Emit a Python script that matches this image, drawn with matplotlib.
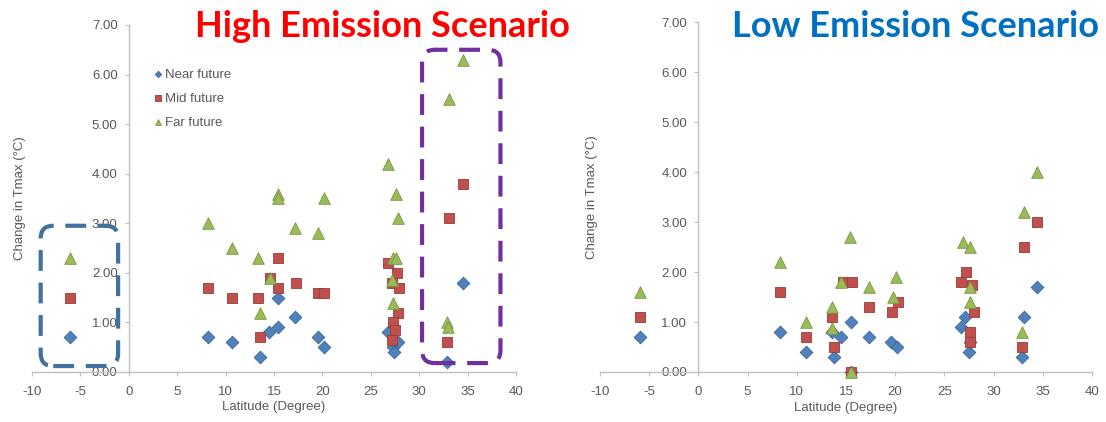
import matplotlib
matplotlib.use("Agg")
import matplotlib.pyplot as plt
from matplotlib.patches import FancyBboxPatch

# High emission scenario (left panel)
high_near_lat = [-6.1, 8.2, 10.7, 13.6, 14.5, 15.4, 15.4, 17.2, 19.6, 20.2, 26.8, 27.3, 27.4, 27.8, 32.9, 34.5]
high_near_val = [0.7, 0.7, 0.6, 0.3, 0.8, 0.9, 1.5, 1.1, 0.7, 0.5, 0.8, 0.5, 0.4, 0.6, 0.2, 1.8]
high_mid_lat = [-6.1, 8.2, 10.7, 13.4, 13.6, 14.6, 15.4, 15.4, 17.3, 19.6, 20.2, 26.8, 27.2, 27.7, 27.9, 27.8, 27.3, 27.5, 27.2, 32.9, 33.1, 34.5]
high_mid_val = [1.5, 1.7, 1.5, 1.5, 0.7, 1.9, 2.3, 1.7, 1.8, 1.6, 1.6, 2.2, 1.8, 2.0, 1.7, 1.2, 1.0, 0.85, 0.65, 0.6, 3.1, 3.8]
high_far_lat = [-6.1, 8.2, 10.7, 13.4, 13.6, 14.6, 15.4, 15.4, 17.2, 19.6, 20.2, 26.8, 27.6, 27.8, 27.3, 27.6, 27.2, 27.3, 32.9, 33.0, 33.1, 34.5]
high_far_val = [2.3, 3.0, 2.5, 2.3, 1.2, 1.9, 3.6, 3.5, 2.9, 2.8, 3.5, 4.2, 3.6, 3.1, 2.3, 2.3, 1.85, 1.4, 1.0, 0.9, 5.5, 6.3]

# Low emission scenario (right panel)
low_near_lat = [-5.9, 8.3, 10.9, 13.6, 13.8, 14.5, 15.5, 15.5, 17.3, 19.6, 20.2, 26.7, 27.1, 27.5, 27.6, 32.9, 33.1, 34.4]
low_near_val = [0.7, 0.8, 0.4, 0.8, 0.3, 0.7, 1.0, 0.0, 0.7, 0.6, 0.5, 0.9, 1.1, 0.4, 0.6, 0.3, 1.1, 1.7]
low_mid_lat = [-5.9, 8.3, 10.9, 13.6, 13.8, 14.7, 15.6, 15.5, 17.3, 19.7, 20.3, 26.7, 27.2, 27.8, 28.0, 27.6, 27.6, 32.9, 33.1, 34.4]
low_mid_val = [1.1, 1.6, 0.7, 1.1, 0.5, 1.8, 1.8, 0.0, 1.3, 1.2, 1.4, 1.8, 2.0, 1.75, 1.2, 0.8, 0.6, 0.5, 2.5, 3.0]
low_far_lat = [-5.9, 8.3, 10.9, 13.6, 13.6, 14.5, 15.45, 15.5, 17.3, 19.8, 20.1, 26.9, 27.6, 27.6, 27.6, 32.9, 33.1, 34.4]
low_far_val = [1.6, 2.2, 1.0, 1.3, 0.88, 1.8, 2.7, 0.0, 1.7, 1.5, 1.9, 2.6, 2.5, 1.7, 1.4, 0.8, 3.2, 4.0]

series_labels = ["Near future", "Mid future", "Far future"]
x_ticks = [-10, -5, 0, 5, 10, 15, 20, 25, 30, 35, 40]
y_ticks = [0, 1, 2, 3, 4, 5, 6, 7]

# style per series: marker, size, face, edge
STYLES = [("D", 42, "#4F81BD", "#3B6594"),
          ("s", 62, "#C0504D", "#9A3B39"),
          ("^", 70, "#9BBB59", "#7A9645")]

GRAY = "#BFBFBF"
TXT = "#595959"
FONT = "Liberation Sans"


def style_axes(ax, ylabel_x):
    ax.set_xlim(-10, 40)
    ax.set_ylim(0, 7)
    ax.spines["left"].set_position(("data", 0))
    ax.spines["top"].set_visible(False)
    ax.spines["right"].set_visible(False)
    for s in ("left", "bottom"):
        ax.spines[s].set_color(GRAY)
        ax.spines[s].set_linewidth(1.0)
    ax.set_xticks(x_ticks)
    ax.set_yticks(y_ticks)
    ax.set_xticklabels([str(t) for t in x_ticks], fontsize=9.5, color=TXT, family=FONT)
    ax.set_yticklabels([f"{t:.2f}" for t in y_ticks], fontsize=9.5, color=TXT, family=FONT)
    ax.tick_params(axis="x", length=3, color=GRAY, pad=7)
    ax.tick_params(axis="y", length=3, color=GRAY, pad=5)
    ax.set_xlabel("Latitude (Degree)", fontsize=9.5, color=TXT, family=FONT)
    ax.set_ylabel("Change in Tmax (°C)", fontsize=9.5, color=TXT, family=FONT)
    ax.xaxis.set_label_coords(0.5, -0.085)
    ax.yaxis.set_label_coords(ylabel_x, 0.5)
    ax.patch.set_alpha(0)


def draw_series(ax, lats, vals):
    for (lat, val), lab, (m, s, fc, ec) in zip(zip(lats, vals), series_labels, STYLES):
        ax.scatter(lat, val, marker=m, s=s, c=fc, edgecolors=ec, linewidths=0.6,
                   label=lab, zorder=3, clip_on=False)


def dashed_box(ax, x0, y0, x1, y1, color):
    # rounded box in data units; aspect keeps the corners round on screen
    box = FancyBboxPatch((x0, y0), x1 - x0, y1 - y0,
                         boxstyle="round,pad=0,rounding_size=1.3",
                         mutation_aspect=0.196, fill=False, edgecolor=color,
                         linewidth=3.0, linestyle=(0, (5, 2.8)),
                         zorder=5, clip_on=False)
    ax.add_patch(box)


fig = plt.figure(figsize=(11.06, 4.22), dpi=100)

ax1 = fig.add_axes([0.0289, 0.1185, 0.4376, 0.8223])
ax2 = fig.add_axes([0.5425, 0.1185, 0.4448, 0.8290])

draw_series(ax1, [high_near_lat, high_mid_lat, high_far_lat],
            [high_near_val, high_mid_val, high_far_val])
draw_series(ax2, [low_near_lat, low_mid_lat, low_far_lat],
            [low_near_val, low_mid_val, low_far_val])

style_axes(ax1, -0.012)
style_axes(ax2, -0.004)

leg = ax1.legend(loc="upper left", bbox_to_anchor=(0.235, 0.89), frameon=False,
                 markerscale=0.5, handletextpad=0.1, handlelength=1.0,
                 labelspacing=0.9, borderaxespad=0,
                 prop={"family": FONT, "size": 9.5})
for t in leg.get_texts():
    t.set_color(TXT)

# highlight boxes on the high scenario panel
dashed_box(ax1, -9.1, 0.12, -1.1, 2.95, "#41719C")
dashed_box(ax1, 30.3, 0.18, 38.4, 6.5, "#7030A0")

fig.text(0.346, 0.912, "High Emission Scenario", color="#FF0000", fontsize=26,
         fontweight="bold", family="Lato", ha="center", va="baseline")
fig.text(0.828, 0.912, "Low Emission Scenario", color="#0070C0", fontsize=26,
         fontweight="bold", family="Lato", ha="center", va="baseline")

fig.savefig("out.png", dpi=100)
plt.close(fig)
